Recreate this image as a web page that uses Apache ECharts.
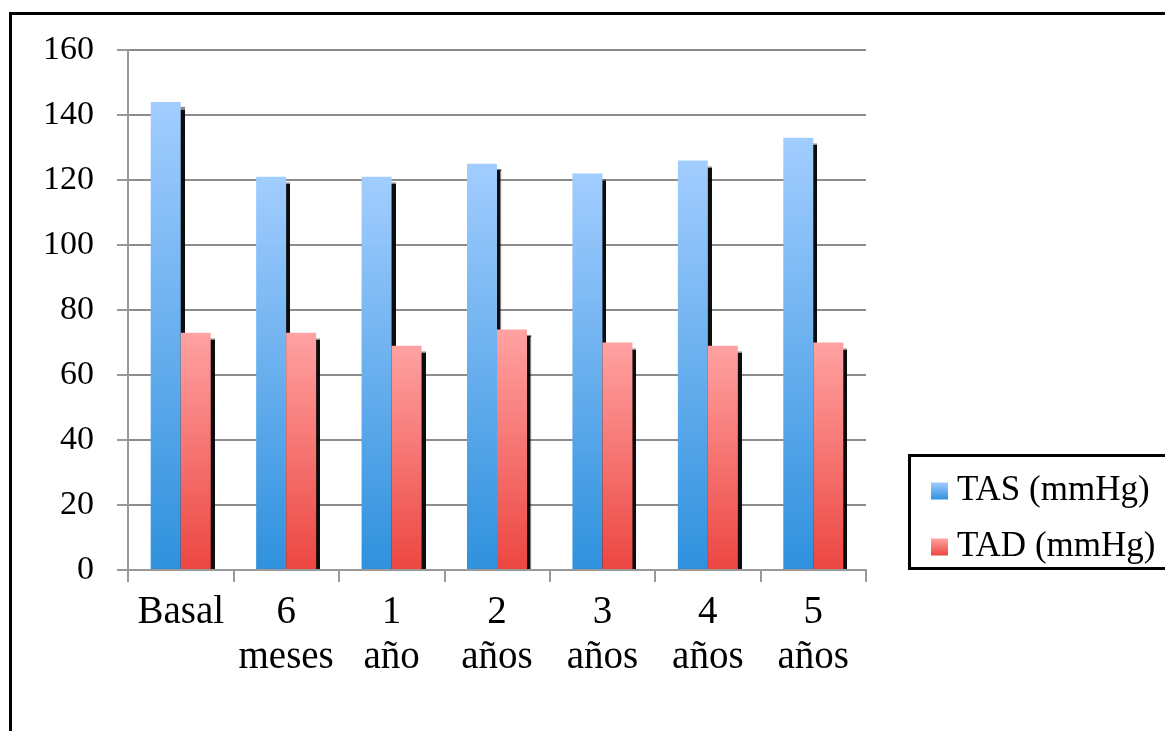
<!DOCTYPE html>
<html>
<head>
<meta charset="utf-8">
<script src="https://cdn.jsdelivr.net/npm/echarts@6/dist/echarts.min.js"></script>
<style>html,body{margin:0;padding:0;background:#fff;}#c{width:1165px;height:731px;}</style>
</head>
<body>
<div id="c"></div>
<script>
const categories = ['Basal', '6\nmeses', '1\naño', '2\naños', '3\naños', '4\naños', '5\naños'];
const tasValues = [144, 121, 121, 125, 122, 126, 133];
const tadValues = [73, 73, 69, 74, 70, 69, 70];
const yTicks = [0, 20, 40, 60, 80, 100, 120, 140, 160];
const seriesNames = ['TAS (mmHg)', 'TAD (mmHg)'];

const FONT = '"Liberation Serif", "Times New Roman", serif';
const W = 1165, H = 731;
const GRID = {left: 128, right: 299, top: 50, bottom: 161};
const chart = echarts.init(document.getElementById('c'));

const blueGrad = new echarts.graphic.LinearGradient(0, 0, 0, 1, [
  {offset: 0, color: '#A2CDFF'}, {offset: 1, color: '#2F91DD'}]);
const redGrad = new echarts.graphic.LinearGradient(0, 0, 0, 1, [
  {offset: 0, color: '#FFA2A2'}, {offset: 1, color: '#EC4641'}]);

function barStyle(c) {
  return {color: c, shadowColor: 'rgba(0,0,0,0.95)', shadowBlur: 1, shadowOffsetX: 4, shadowOffsetY: 5};
}

const baseY = H - GRID.bottom;

chart.setOption({
  animation: false,
  backgroundColor: '#fff',
  grid: GRID,
  xAxis: {
    type: 'category',
    data: categories,
    z: 5,
    axisLine: {lineStyle: {color: '#999', width: 2}},
    axisTick: {show: true, length: 12, lineStyle: {color: '#999', width: 2}},
    axisLabel: {color: '#000', fontFamily: FONT, fontSize: 39, lineHeight: 45, margin: 20, interval: 0}
  },
  yAxis: {
    type: 'value',
    min: yTicks[0],
    max: yTicks[yTicks.length - 1],
    interval: 20,
    axisLine: {show: true, lineStyle: {color: '#999', width: 2}},
    axisTick: {show: true, length: 11, lineStyle: {color: '#999', width: 2}},
    splitLine: {lineStyle: {color: '#8c8c8c', width: 2}},
    axisLabel: {color: '#000', fontFamily: FONT, fontSize: 34, margin: 34}
  },
  legend: {
    orient: 'vertical',
    left: 926,
    top: 466,
    itemWidth: 17,
    itemHeight: 17,
    itemGap: 16,
    icon: 'rect',
    textStyle: {color: '#000', fontFamily: FONT, fontSize: 35, lineHeight: 40, padding: [0, 0, 0, 4]},
    data: seriesNames
  },
  graphic: [
    {type: 'rect', z: 3, shape: {x: GRID.left + 2, y: baseY + 1, width: W - GRID.left - GRID.right - 4, height: 8}, style: {fill: '#fff'}, silent: true},
    {type: 'rect', z: 10, shape: {x: 10.5, y: 13.5, width: 1200, height: 800}, style: {fill: 'none', stroke: '#000', lineWidth: 3}, silent: true},
    {type: 'rect', z: 10, shape: {x: 909.5, y: 455.5, width: 300, height: 113}, style: {fill: 'none', stroke: '#000', lineWidth: 3}, silent: true}
  ],
  series: [
    {name: seriesNames[0], type: 'bar', data: tasValues, barWidth: 30, barGap: '0%', clip: true,
     itemStyle: barStyle(blueGrad)},
    {name: seriesNames[1], type: 'bar', data: tadValues, barWidth: 30, barGap: '0%', clip: true,
     itemStyle: barStyle(redGrad)}
  ]
});
</script>
</body>
</html>
